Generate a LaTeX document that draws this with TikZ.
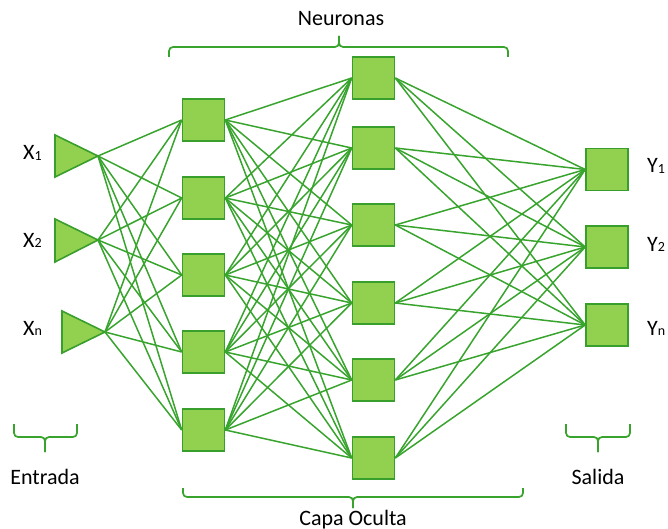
\documentclass[tikz,border=0pt]{standalone}
\usepackage{fontspec}
\setmainfont{Carlito}
\definecolor{cellfill}{RGB}{146,208,80}
\definecolor{cellline}{RGB}{56,158,44}
\definecolor{wire}{RGB}{56,164,46}
\begin{document}
\begin{tikzpicture}[x=1pt,y=-1pt,
  cell/.style={draw=cellline,fill=cellfill,line width=1.6pt,minimum size=42pt,inner sep=0pt},
  tri/.style={draw=cellline,fill=cellfill,line width=1.6pt,line join=miter},
  wire/.style={draw=wire,line width=1.5pt},
  brace/.style={draw=wire,line width=1.7pt,rounded corners=4pt},
  lbl/.style={font=\fontsize{22}{24}\selectfont,inner sep=0pt,text=black}]
\newcommand{\sub}[1]{\raisebox{-0.5pt}{\fontsize{14}{14}\selectfont #1}}
\useasboundingbox (0,0) rectangle (668,529);

% input triangles and their tips
\draw[tri] (55,135) -- (98,156) -- (55,177) -- cycle;
\draw[tri] (55,219) -- (98,240) -- (55,262) -- cycle;
\draw[tri] (62,311) -- (105,332) -- (62,353) -- cycle;
\coordinate (t1) at (98,156);
\coordinate (t2) at (98,240);
\coordinate (t3) at (105,332);

% first hidden layer
\foreach \i/\y in {1/120,2/198,3/275,4/352,5/430}
  \node[cell] (a\i) at (203.5,\y) {};
% second hidden layer
\foreach \i/\y in {1/78,2/148,3/225,4/303,5/380,6/458}
  \node[cell] (b\i) at (373.5,\y) {};
% output layer
\foreach \i/\y in {1/169.5,2/247,3/325}
  \node[cell] (c\i) at (607,\y) {};

% connections
\foreach \s in {t1,t2,t3}
  \foreach \j in {1,...,5}
    \draw[wire] (\s) -- (a\j.west);
\foreach \i in {1,...,5}
  \foreach \j in {1,...,6}
    \draw[wire] (a\i.east) -- (b\j.west);
\foreach \i in {1,...,6}
  \foreach \j in {1,2,3}
    \draw[wire] (b\i.east) -- (c\j.west);

% input and output labels
\node[lbl,anchor=base west] (x1) at (23,160) {X\sub{1}};
\node[lbl,anchor=base west] (x2) at (23,247) {X\sub{2}};
\node[lbl,anchor=base west] (xn) at (23,335) {X\sub{n}};
\node[lbl,anchor=base west] (y1) at (647,173) {Y\sub{1}};
\node[lbl,anchor=base west] (y2) at (647,251) {Y\sub{2}};
\node[lbl,anchor=base west] (yn) at (647,335) {Y\sub{n}};

% braces
\draw[brace] (169,57) -- (169,47) -- (339,47) -- (339,36);
\draw[brace] (339,36) -- (339,47) -- (508,47) -- (508,57);
\draw[brace] (183,488) -- (183,497) -- (353,497) -- (353,508);
\draw[brace] (353,508) -- (353,497) -- (523,497) -- (523,488);
\draw[brace] (14,424) -- (14,437) -- (45,437) -- (45,452);
\draw[brace] (45,452) -- (45,437) -- (77,437) -- (77,424);
\draw[brace] (566,424) -- (566,437) -- (598,437) -- (598,452);
\draw[brace] (598,452) -- (598,437) -- (630,437) -- (630,424);

% group titles
\node[lbl,anchor=base] (neu) at (341,26) {Neuronas};
\node[lbl,anchor=base] (hid) at (353,525) {Capa Oculta};
\node[lbl,anchor=base] (inp) at (45,484) {Entrada};
\node[lbl,anchor=base] (out) at (598,484) {Salida};
\end{tikzpicture}
\end{document}
